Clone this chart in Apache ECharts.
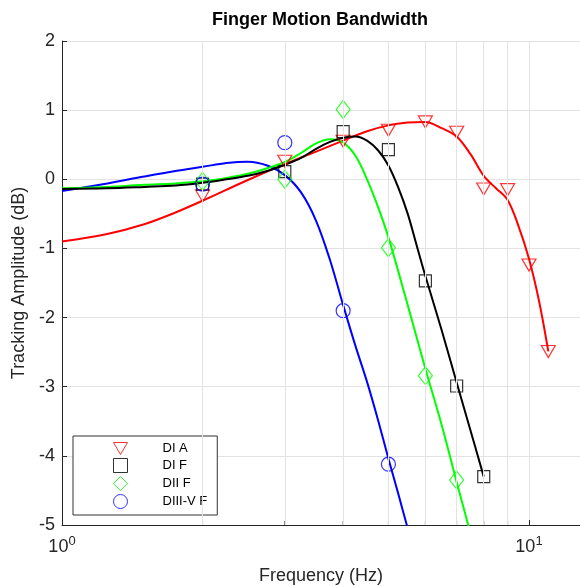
<!DOCTYPE html>
<html>
<head>
<meta charset="utf-8">
<title>Finger Motion Bandwidth</title>
<script src="https://cdn.jsdelivr.net/npm/echarts@6/dist/echarts.min.js"></script>
<style>
  html, body { margin: 0; padding: 0; background: #fff; }
  #chart { width: 580px; height: 586px; }
</style>
</head>
<body>
<div id="chart"></div>
<script>
(function () {
	'use strict';

	var FONT = '"Liberation Sans", Arial, Helvetica, sans-serif';
	var TEXT = '#262626';

	// measured points: frequency (Hz) / tracking amplitude (dB)
	var diAFreq = [2, 3, 4, 5, 6, 7, 8, 9, 10, 11];
	var diAAmp = [-0.24, 0.26, 0.55, 0.71, 0.83, 0.68, -0.14, -0.15, -1.24, -2.49];
	var diFFreq = [2, 3, 4, 5, 6, 7, 8];
	var diFAmp = [-0.07, 0.11, 0.69, 0.43, -1.47, -2.99, -4.30];
	var diiFFreq = [2, 3, 4, 5, 6, 7];
	var diiFAmp = [-0.03, 0.0, 1.01, -0.99, -2.84, -4.35];
	var diiivFFreq = [2, 3, 4, 5];
	var diiivFAmp = [-0.07, 0.53, -1.90, -4.12];

	// fitted curves
	var diAFitFreq = [1, 1.25, 1.5, 1.75, 2, 2.5, 3, 3.5, 4, 4.5, 5, 5.5, 6, 6.5, 7, 7.5, 8, 8.5, 9, 9.5, 10, 10.5, 11];
	var diAFitAmp = [-0.90, -0.79, -0.65, -0.48, -0.31, -0.01, 0.22, 0.40, 0.56, 0.695, 0.78, 0.82, 0.83, 0.74, 0.62, 0.36, 0.05, -0.13, -0.30, -0.68, -1.15, -1.75, -2.49];
	var diFFitFreq = [1, 1.25, 1.5, 1.75, 2, 2.25, 2.5, 2.75, 3, 3.25, 3.5, 3.75, 4, 4.25, 4.5, 4.75, 5, 5.25, 5.5, 5.75, 6, 6.5, 7, 7.5, 8];
	var diFFitAmp = [-0.14, -0.13, -0.11, -0.09, -0.05, 0.0, 0.05, 0.12, 0.21, 0.31, 0.44, 0.54, 0.60, 0.62, 0.56, 0.42, 0.20, -0.12, -0.50, -0.96, -1.40, -2.18, -2.94, -3.64, -4.30];
	var diiFFitFreq = [1, 1.25, 1.5, 1.75, 2, 2.25, 2.5, 2.75, 3, 3.25, 3.5, 3.75, 4, 4.25, 4.5, 4.75, 5, 5.5, 6, 6.5, 7, 7.41, 7.6];
	var diiFFitAmp = [-0.13, -0.11, -0.08, -0.06, -0.03, 0.02, 0.08, 0.16, 0.25, 0.38, 0.52, 0.58, 0.53, 0.34, 0.0, -0.40, -0.84, -1.82, -2.74, -3.55, -4.38, -5.0, -5.3];
	var diiivFFitFreq = [1, 1.25, 1.5, 1.75, 2, 2.25, 2.5, 2.75, 3, 3.25, 3.5, 3.75, 4, 4.25, 4.5, 4.75, 5, 5.25, 5.5, 5.75];
	var diiivFFitAmp = [-0.17, -0.06, 0.04, 0.12, 0.18, 0.235, 0.255, 0.20, 0.06, -0.19, -0.60, -1.17, -1.82, -2.41, -2.93, -3.48, -4.04, -4.55, -5.05, -5.5];

	// axes
	var xMin = 1;
	var xMax = 12.86;
	var minorFreqs = [2, 3, 4, 5, 6, 7, 8, 9];
	var yMin = -5;
	var yMax = 2;
	var yStep = 1;

	function pairs(xs, ys) {
		return xs.map(function (x, i) {
			return [x, ys[i]];
		});
	}

	function markerSeries(name, freq, amp, symbol, size, color) {
		return {
			name: name,
			type: 'scatter',
			data: pairs(freq, amp),
			symbol: symbol,
			symbolSize: size,
			itemStyle: { color: 'rgba(0,0,0,0)', borderColor: color, borderWidth: 1.2 },
			emphasis: { disabled: true },
			z: 4
		};
	}

	function fitSeries(name, freq, amp, color) {
		return {
			name: name + ' fit',
			type: 'line',
			data: pairs(freq, amp),
			smooth: 0.35,
			showSymbol: false,
			symbol: 'none',
			lineStyle: { color: color, width: 2 },
			silent: true,
			z: 3
		};
	}

	var triangleDown = 'path://M0,0L14,0L7,12Z';

	var chart = echarts.init(document.getElementById('chart'));

	chart.setOption({
		animation: false,
		backgroundColor: '#fff',
		title: {
			text: 'Finger Motion Bandwidth',
			left: 207,
			top: 6,
			textStyle: { fontFamily: FONT, fontSize: 18, fontWeight: 'bold', color: '#000' }
		},
		grid: { left: 62, right: 0, top: 41, bottom: 61, containLabel: false, outerBoundsMode: 'none' },
		legend: {
			data: [
				{ name: 'DI A', icon: triangleDown },
				{ name: 'DI F', icon: 'rect' },
				{ name: 'DII F', icon: 'diamond' },
				{ name: 'DIII-V F', icon: 'circle' }
			],
			orient: 'vertical',
			left: 73,
			top: 436,
			padding: [6, 10, 6, 40],
			itemGap: 3,
			itemWidth: 14,
			itemHeight: 14,
			backgroundColor: '#fff',
			borderColor: '#333',
			borderWidth: 1,
			selectedMode: false,
			itemStyle: { borderWidth: 1 },
			textStyle: { fontFamily: FONT, fontSize: 13, color: '#000', padding: [0, 0, 0, 30] }
		},
		xAxis: {
			type: 'log',
			logBase: 10,
			min: xMin,
			max: xMax,
			name: 'Frequency (Hz)',
			nameLocation: 'middle',
			nameGap: 42,
			nameTextStyle: { fontFamily: FONT, fontSize: 18, color: TEXT },
			axisLine: { onZero: false, lineStyle: { color: TEXT, width: 1 } },
			axisTick: { inside: true, length: 5, lineStyle: { color: TEXT } },
			axisLabel: {
				margin: 10,
				showMinLabel: true,
				formatter: function (v) {
					var p = Math.round(Math.log10(v));
					if (Math.abs(v - Math.pow(10, p)) > 1e-6 * v) return '';
					return '{b|10}{s|' + p + '}';
				},
				rich: {
					b: { fontFamily: FONT, fontSize: 18, color: TEXT },
					s: { fontFamily: FONT, fontSize: 13, color: TEXT, padding: [0, 0, 12, 0] }
				}
			},
			splitLine: { show: true, lineStyle: { color: '#e3e3e3', width: 1 } }
		},
		yAxis: {
			type: 'value',
			min: yMin,
			max: yMax,
			interval: yStep,
			name: 'Tracking Amplitude (dB)',
			nameLocation: 'middle',
			nameGap: 33,
			nameRotate: 90,
			nameTextStyle: { fontFamily: FONT, fontSize: 18, color: TEXT },
			axisLine: { show: true, onZero: false, lineStyle: { color: TEXT, width: 1 } },
			axisTick: { show: true, inside: true, length: 5, lineStyle: { color: TEXT } },
			axisLabel: { fontFamily: FONT, fontSize: 18, color: TEXT, margin: 7 },
			splitLine: { show: true, lineStyle: { color: '#e3e3e3', width: 1 } }
		},
		series: [
			{
				// minor ticks along the frequency axis, plus their grid lines
				name: 'minor',
				type: 'scatter',
				data: minorFreqs.map(function (f) { return [f, yMin]; }),
				symbol: 'rect',
				symbolSize: [1, 4],
				symbolOffset: [0, -2],
				itemStyle: { color: TEXT },
				silent: true,
				z: 1,
				markLine: {
					silent: true,
					symbol: ['none', 'none'],
					label: { show: false },
					lineStyle: { color: '#e3e3e3', type: 'solid', width: 1 },
					data: minorFreqs.map(function (f) { return { xAxis: f }; })
				}
			},
			fitSeries('DI A', diAFitFreq, diAFitAmp, '#ff0000'),
			fitSeries('DIII-V F', diiivFFitFreq, diiivFFitAmp, '#0000ff'),
			fitSeries('DII F', diiFFitFreq, diiFFitAmp, '#00ff00'),
			fitSeries('DI F', diFFitFreq, diFFitAmp, '#000000'),
			markerSeries('DI A', diAFreq, diAAmp, triangleDown, [14, 12], '#ff0000'),
			markerSeries('DI F', diFFreq, diFAmp, 'rect', 12, '#000000'),
			markerSeries('DII F', diiFFreq, diiFAmp, 'diamond', [14, 18], '#00ff00'),
			markerSeries('DIII-V F', diiivFFreq, diiivFAmp, 'circle', 14, '#0000ff')
		]
	});

	window.addEventListener('resize', function () {
		chart.resize();
	});
})();
</script>
</body>
</html>
